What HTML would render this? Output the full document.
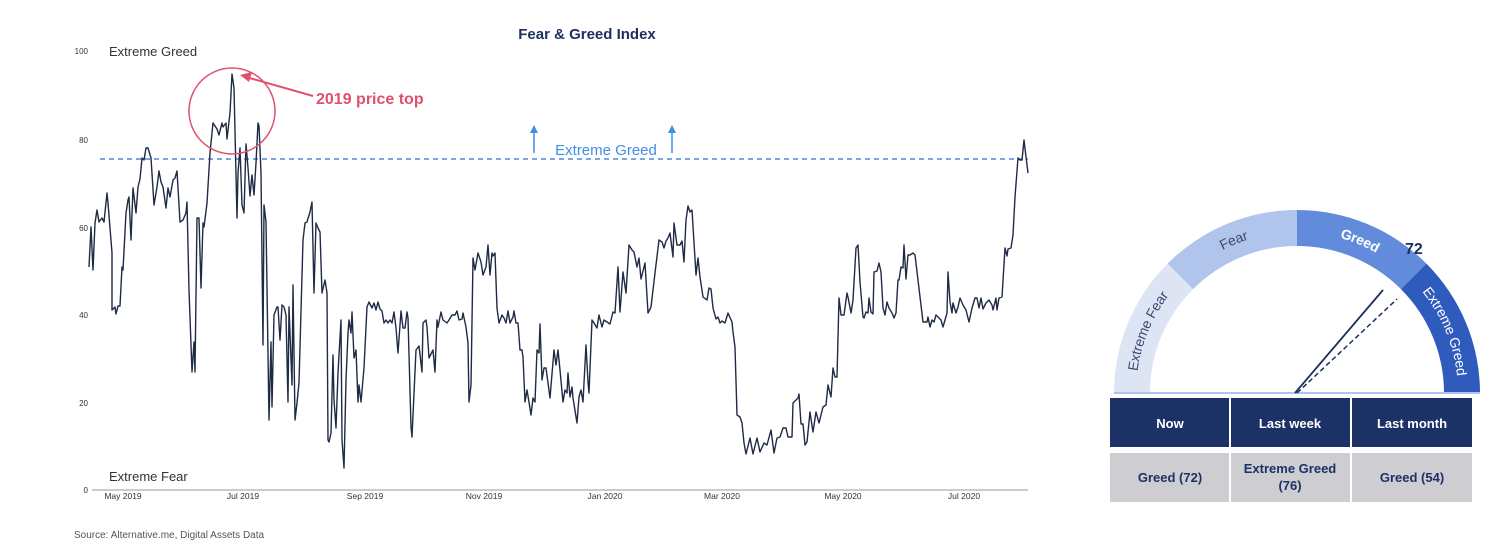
<!DOCTYPE html>
<html><head><meta charset="utf-8"><style>
body{margin:0;background:#fff;width:1498px;height:542px;overflow:hidden;font-family:"Liberation Sans",sans-serif}
</style></head><body>
<svg width="1498" height="542" viewBox="0 0 1498 542" xmlns="http://www.w3.org/2000/svg" font-family="Liberation Sans, sans-serif">
<text x="587" y="39" text-anchor="middle" font-size="15" font-weight="bold" fill="#1c2f5e">Fear &amp; Greed Index</text>
<g font-size="8" fill="#333" text-anchor="end">
<text x="88" y="54">100</text><text x="88" y="143">80</text><text x="88" y="231">60</text><text x="88" y="318">40</text><text x="88" y="406">20</text><text x="88" y="493">0</text>
</g>
<text x="109" y="56" font-size="13" fill="#333">Extreme Greed</text>
<text x="109" y="481" font-size="13" fill="#333">Extreme Fear</text>
<line x1="92" y1="490" x2="1028" y2="490" stroke="#999" stroke-width="1"/>
<g font-size="8.5" fill="#333" text-anchor="middle">
<text x="123" y="499">May 2019</text><text x="243" y="499">Jul 2019</text><text x="365" y="499">Sep 2019</text><text x="484" y="499">Nov 2019</text><text x="605" y="499">Jan 2020</text><text x="722" y="499">Mar 2020</text><text x="843" y="499">May 2020</text><text x="964" y="499">Jul 2020</text>
</g>
<line x1="100" y1="159" x2="1028" y2="159" stroke="#2f6fd6" stroke-width="1.2" stroke-dasharray="5,4"/>
<text x="606" y="155" text-anchor="middle" font-size="15" fill="#3d8fe8">Extreme Greed</text>
<g stroke="#3d8fe8" stroke-width="1.5" fill="#3d8fe8">
<line x1="534" y1="153" x2="534" y2="130"/><path d="M530 133 L534 125 L538 133Z" stroke="none"/>
<line x1="672" y1="153" x2="672" y2="130"/><path d="M668 133 L672 125 L676 133Z" stroke="none"/>
</g>
<polyline fill="none" stroke="#1f2a44" stroke-width="1.4" stroke-linejoin="round" points="89,267 91,227 93,270 95,223 97,210 99,222 102,218 104,222 107,193 108,203 112,253 112,310 115,307 116,314 118,306 120,306 122,267 123,270 126,213 128,200 129,197 131,240 133,188 136,213 138,187 140,179 142,158 144,160 146,148 148,148 151,158 154,205 157,187 159,171 161,182 163,187 166,208 168,188 170,197 173,180 175,178 177,171 180,222 183,220 186,213 187,202 189,290 192,372 194,342 195,372 197,218 199,218 201,288 203,223 204,227 207,203 210,153 213,123 217,129 219,135 222,123 223,127 226,123 227,139 230,113 232,74 234,88 237,218 238,173 240,148 242,205 244,213 246,144 248,168 250,196 252,175 254,195 256,163 258,123 259,126 261,173 263,345 264,205 266,222 269,420 271,342 272,407 274,315 277,307 278,307 280,340 282,305 284,307 286,315 288,402 289,307 292,385 293,285 295,420 297,403 299,383 303,240 305,223 307,222 310,212 312,202 314,293 316,223 318,228 320,232 322,293 325,280 327,293 328,440 329,442 331,433 333,355 334,400 336,428 338,373 341,320 342,440 344,468 346,380 348,333 349,320 351,333 352,312 354,358 356,350 358,402 359,385 361,402 364,368 367,307 369,302 372,308 374,303 376,310 378,302 380,309 382,311 384,323 386,320 388,323 390,320 392,323 394,312 396,328 398,353 401,311 403,328 405,328 407,312 408,318 411,427 412,437 416,350 419,346 422,372 423,323 426,320 427,327 429,358 432,352 433,350 435,372 437,320 438,327 441,312 443,320 447,323 449,320 452,315 455,315 457,311 459,320 462,319 463,313 466,327 468,343 469,402 471,385 473,258 475,270 478,253 481,262 483,275 486,267 488,245 490,275 492,253 493,256 495,253 497,308 499,323 502,315 504,318 506,323 508,311 510,323 513,317 514,311 516,323 518,323 520,350 522,350 523,357 525,402 527,390 529,402 531,415 533,398 535,402 537,350 539,353 540,324 542,380 544,368 546,368 550,398 553,362 554,350 556,365 558,350 560,370 563,402 565,390 567,393 568,373 570,397 572,387 573,398 577,423 579,397 581,390 583,402 586,345 588,382 589,393 592,320 594,323 597,328 599,315 602,327 604,320 607,322 610,324 613,312 615,313 618,267 620,312 623,272 626,293 629,245 632,250 634,252 637,267 639,258 641,279 645,263 648,313 651,307 655,273 659,240 662,242 664,248 666,241 668,238 670,233 673,257 674,223 677,245 680,245 682,241 684,262 686,220 688,206 690,212 692,210 696,275 698,258 700,277 703,297 707,300 709,288 711,289 713,308 716,319 718,317 720,323 722,321 725,323 728,313 732,322 733,332 735,347 737,415 740,417 742,423 744,443 746,454 750,438 753,454 757,438 760,452 764,443 767,445 771,430 774,453 777,438 780,437 783,428 786,428 788,437 792,437 793,403 798,398 799,394 801,424 803,424 805,445 807,442 810,412 813,432 816,412 819,423 823,407 826,405 828,385 831,397 833,368 835,377 837,377 839,298 841,315 844,315 847,293 848,297 851,313 853,300 856,248 858,245 860,282 863,317 864,318 866,312 868,313 869,298 871,312 873,314 874,272 877,271 879,263 881,272 883,308 885,315 887,302 889,308 892,313 894,318 896,313 898,280 899,280 901,267 903,268 904,245 906,279 908,255 910,255 913,253 915,255 923,322 927,322 928,317 930,327 932,320 934,322 936,315 938,317 941,320 943,327 947,313 948,272 950,302 952,313 953,303 956,313 958,307 960,298 963,305 966,310 969,322 972,308 975,298 977,298 979,308 981,298 983,309 986,303 989,300 992,305 993,310 996,298 997,310 999,298 1002,297 1005,248 1007,256 1008,249 1011,248 1013,235 1015,197 1018,158 1020,160 1022,160 1024,140 1026,157 1028,173"/>
<circle cx="232" cy="111" r="43" fill="none" stroke="#e0506e" stroke-width="1.5"/>
<line x1="313" y1="96" x2="246" y2="77" stroke="#e0506e" stroke-width="2"/>
<path d="M240 75 L252 72 L249 82Z" fill="#e0506e"/>
<text x="316" y="104" font-size="16" font-weight="bold" fill="#e0506e">2019 price top</text>
<text x="74" y="538" font-size="10" fill="#555">Source: Alternative.me, Digital Assets Data</text>

<!-- gauge -->
<g transform="translate(1297,393)">
<path d="M-183 0 A183 183 0 0 1 -129.4 -129.4 L-103.9 -103.9 A147 147 0 0 0 -147 0Z" fill="#dde5f5"/>
<path d="M-129.4 -129.4 A183 183 0 0 1 0 -183 L0 -147 A147 147 0 0 0 -103.9 -103.9Z" fill="#b0c4ec"/>
<path d="M0 -183 A183 183 0 0 1 129.4 -129.4 L103.9 -103.9 A147 147 0 0 0 0 -147Z" fill="#628cdb"/>
<path d="M129.4 -129.4 A183 183 0 0 1 183 0 L147 0 A147 147 0 0 0 103.9 -103.9Z" fill="#2f5bbd"/>
<defs>
<path id="a1" d="M-165 0 A165 165 0 0 1 -116.7 -116.7"/>
<path id="a2" d="M-116.7 -116.7 A165 165 0 0 1 0 -165"/>
<path id="a3" d="M0 -165 A165 165 0 0 1 116.7 -116.7"/>
<path id="a4" d="M116.7 -116.7 A165 165 0 0 1 165 0"/>
</defs>
<g font-size="14" dominant-baseline="middle">
<text fill="#3a4a70"><textPath href="#a1" startOffset="50%" text-anchor="middle">Extreme Fear</textPath></text>
<text fill="#3a4a70"><textPath href="#a2" startOffset="50%" text-anchor="middle">Fear</textPath></text>
<text fill="#fff" font-weight="bold"><textPath href="#a3" startOffset="50%" text-anchor="middle">Greed</textPath></text>
<text fill="#fff"><textPath href="#a4" startOffset="50%" text-anchor="middle">Extreme Greed</textPath></text>
</g>
<line x1="-183" y1="0" x2="183" y2="0" stroke="#b0c4ec" stroke-width="2"/>
<line x1="-2" y1="0" x2="86" y2="-103" stroke="#1c2f5e" stroke-width="1.8"/>
<line x1="0" y1="0" x2="100" y2="-94" stroke="#1c2f5e" stroke-width="1.5" stroke-dasharray="5,3"/>
</g>
<text x="1405" y="254" font-size="16" font-weight="bold" fill="#1c2f5e">72</text>
<g fill="#1c3166">
<rect x="1110" y="398" width="119" height="49"/><rect x="1231" y="398" width="119" height="49"/><rect x="1352" y="398" width="120" height="49"/>
</g>
<g fill="#cdcdd2">
<rect x="1110" y="453" width="119" height="49"/><rect x="1231" y="453" width="119" height="49"/><rect x="1352" y="453" width="120" height="49"/>
</g>
<g font-size="13" font-weight="bold" text-anchor="middle" fill="#fff">
<text x="1170" y="428">Now</text><text x="1290" y="428">Last week</text><text x="1412" y="428">Last month</text>
</g>
<g font-size="13" font-weight="bold" text-anchor="middle" fill="#1c3166">
<text x="1170" y="482">Greed (72)</text><text x="1290" y="473">Extreme Greed</text><text x="1290" y="490">(76)</text><text x="1412" y="482">Greed (54)</text>
</g>
</svg>
</body></html>
